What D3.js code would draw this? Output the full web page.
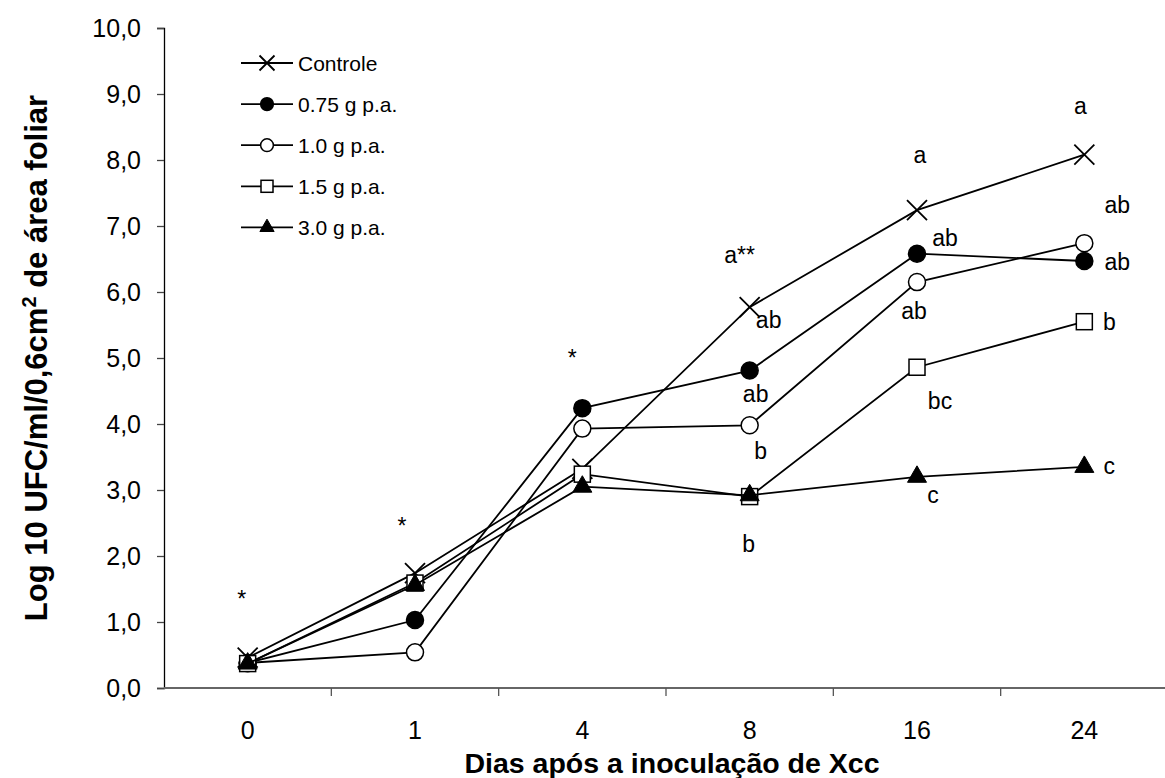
<!DOCTYPE html>
<html>
<head>
<meta charset="utf-8">
<script src="https://cdn.jsdelivr.net/npm/d3@7"></script>
<style>
  html, body { margin: 0; padding: 0; background: #fff; }
  svg { display: block; font-family: "Liberation Sans", Arial, sans-serif; }
</style>
</head>
<body>
<div id="chart"></div>
<script>
// days after inoculation (categorical x axis)
const days = ["0", "1", "4", "8", "16", "24"];
const yTicks = [0, 1, 2, 3, 4, 5, 6, 7, 8, 9, 10];

// log10 UFC per treatment
const controle = [0.46, 1.74, 3.32, 5.77, 7.24, 8.08];
const g075 = [0.38, 1.03, 4.24, 4.81, 6.58, 6.47];
const g100 = [0.38, 0.54, 3.93, 3.98, 6.15, 6.74];
const g150 = [0.37, 1.59, 3.24, 2.90, 4.86, 5.55];
const g300 = [0.37, 1.56, 3.05, 2.92, 3.20, 3.35];

const seriesNames = ["Controle", "0.75 g p.a.", "1.0 g p.a.", "1.5 g p.a.", "3.0 g p.a."];
const seriesValues = [controle, g075, g100, g150, g300];
const seriesMarkers = ["x", "dot", "circle", "square", "triangle"];

// significance letters: day, baseline value, text, horizontal nudge in px
const letterDays = ["0", "1", "4", "8", "8", "8", "8", "8", "16", "16", "16", "16", "16", "24", "24", "24", "24", "24"];
const letterVals = [1.23, 2.33, 4.88, 6.44, 5.45, 4.34, 3.47, 2.06, 7.95, 6.70, 5.59, 4.23, 2.80, 8.69, 7.19, 6.34, 5.43, 3.24];
const letterText = ["*", "*", "*", "a**", "ab", "ab", "b", "b", "a", "ab", "ab", "bc", "c", "a", "ab", "ab", "b", "c"];
const letterNudge = [-6, -13, -10, -10, 19, 6, 11, -1, 3, 28, -3, 23, 16, -4, 33, 33, 25, 25];

const W = 1165, H = 778;
const mLeft = 164, mRight = 1168, mTop = 28, mBottom = 688;

const svg = d3.select("#chart").append("svg")
  .attr("width", W).attr("height", H);

const x = d3.scaleBand().domain(days).range([mLeft, mRight]).padding(0);
const y = d3.scaleLinear().domain([0, 10]).range([mBottom, mTop]);
const cx = d => x(d) + x.bandwidth() / 2;

// y axis
const yAxis = svg.append("g")
  .attr("transform", `translate(${mLeft},0)`)
  .call(d3.axisLeft(y).tickValues(yTicks).tickSize(7).tickPadding(16)
    .tickFormat(d => d3.format(".1f")(d).replace(".", ",")));
yAxis.select(".domain").attr("stroke", "#000").attr("stroke-width", 1.3);
yAxis.selectAll(".tick line").attr("stroke", "#444").attr("stroke-width", 1.3);
yAxis.selectAll("text").attr("font-size", 25).attr("fill", "#000")
  .attr("font-family", "Liberation Sans, Arial, sans-serif");

// x axis: ticks sit between categories
const xAxis = svg.append("g").attr("transform", `translate(0,${mBottom})`);
xAxis.append("line")
  .attr("x1", mLeft).attr("x2", mRight)
  .attr("stroke", "#666").attr("stroke-width", 1.8);
xAxis.selectAll("line.tk")
  .data(days.slice(1))
  .join("line").attr("class", "tk")
  .attr("x1", d => x(d)).attr("x2", d => x(d))
  .attr("y1", 0).attr("y2", 8)
  .attr("stroke", "#555").attr("stroke-width", 1.3);
xAxis.selectAll("text")
  .data(days)
  .join("text")
  .attr("x", d => cx(d)).attr("y", 51)
  .attr("text-anchor", "middle")
  .attr("font-size", 25)
  .text(d => d);

// axis titles
svg.append("text")
  .attr("x", 672).attr("y", 773)
  .attr("text-anchor", "middle")
  .attr("font-size", 28.5).attr("font-weight", "bold")
  .text("Dias após a inoculação de Xcc");

const yTitle = svg.append("text")
  .attr("transform", `translate(47,${(mTop + mBottom) / 2}) rotate(-90)`)
  .attr("text-anchor", "middle")
  .attr("font-size", 31).attr("font-weight", "bold");
yTitle.append("tspan").text("Log 10 UFC/ml/0,6cm");
yTitle.append("tspan").attr("baseline-shift", "super").attr("font-size", 20).text("2");
yTitle.append("tspan").text(" de área foliar");

// marker drawing
function drawMarker(g, type, s) {
  if (type === "x") {
    g.append("path")
      .attr("d", `M${-s},${-s}L${s},${s}M${-s},${s}L${s},${-s}`)
      .attr("stroke", "#000").attr("stroke-width", 1.8).attr("fill", "none");
  } else if (type === "dot" || type === "circle") {
    g.append("circle").attr("r", s * 0.85)
      .attr("fill", type === "dot" ? "#000" : "#fff")
      .attr("stroke", "#000").attr("stroke-width", 1.5);
  } else if (type === "square") {
    g.append("rect").attr("x", -s * 0.8).attr("y", -s * 0.8)
      .attr("width", s * 1.6).attr("height", s * 1.6)
      .attr("fill", "#fff").attr("stroke", "#000").attr("stroke-width", 1.5);
  } else if (type === "triangle") {
    const side = s * 1.9;
    g.append("path")
      .attr("d", d3.symbol(d3.symbolTriangle, Math.sqrt(3) / 4 * side * side)())
      .attr("fill", "#000").attr("stroke", "#000").attr("stroke-width", 1);
  }
}

const line = d3.line().x((v, i) => cx(days[i])).y(v => y(v));
const plot = svg.append("g");

seriesValues.forEach((vals, k) => {
  plot.append("path")
    .attr("d", line(vals))
    .attr("fill", "none").attr("stroke", "#000").attr("stroke-width", 1.8);
  vals.forEach((v, i) => {
    const g = plot.append("g").attr("transform", `translate(${cx(days[i])},${y(v)})`);
    drawMarker(g, seriesMarkers[k], 10);
  });
});

// letters
svg.append("g").selectAll("text")
  .data(letterText)
  .join("text")
  .attr("x", (t, i) => cx(letterDays[i]) + letterNudge[i])
  .attr("y", (t, i) => y(letterVals[i]))
  .attr("text-anchor", "middle")
  .attr("font-size", 23)
  .text(t => t);

// legend
const legend = svg.append("g").attr("transform", "translate(241,63)");
seriesNames.forEach((name, k) => {
  const row = legend.append("g").attr("transform", `translate(0,${k * 41.1})`);
  row.append("line").attr("x1", 0).attr("x2", 52)
    .attr("stroke", "#000").attr("stroke-width", 1.8);
  const m = row.append("g").attr("transform", "translate(26,0)");
  drawMarker(m, seriesMarkers[k], 7.5);
  row.append("text").attr("x", 57).attr("y", 7.5)
    .attr("font-size", 21).text(name);
});
</script>
</body>
</html>
